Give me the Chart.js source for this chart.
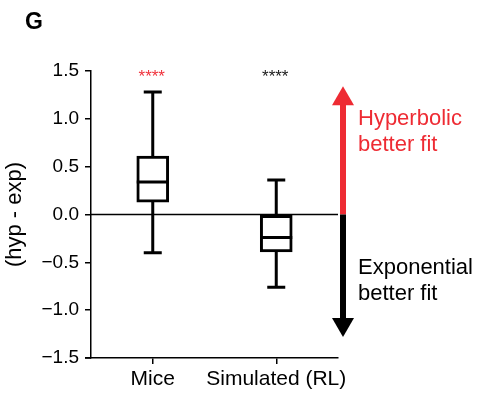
<!DOCTYPE html>
<html>
<head>
<meta charset="utf-8">
<script src="https://cdn.jsdelivr.net/npm/chart.js@4"></script>
<style>
  html, body { margin: 0; padding: 0; background: #fff; }
</style>
</head>
<body>
<canvas id="c" width="487" height="397"></canvas>
<script>
// box plot data
const categories = ['Mice', 'Simulated (RL)'];
const whiskerLow = [-0.40, -0.76];
const q1 = [0.13, -0.39];
const medians = [0.34, -0.24];
const q3 = [0.61, 0.0];
const whiskerHigh = [1.28, 0.36];
const stars = ['****', '****'];
const starColors = ['#f0323c', '#1a1a1a'];
const yTicks = [-1.5, -1.0, -0.5, 0.0, 0.5, 1.0, 1.5];
// arrow extent in y-units
const arrowTop = 1.34;
const arrowBottom = -1.28;

const FONT = "'Liberation Sans', Arial, sans-serif";

const boxExtras = {
  id: 'boxExtras',
  beforeDatasetsDraw(chart) {
    const { ctx, chartArea: a, scales: { x, y } } = chart;
    ctx.save();
    ctx.strokeStyle = '#000';
    // zero line
    ctx.lineWidth = 1.5;
    const y0 = y.getPixelForValue(0);
    ctx.beginPath();
    ctx.moveTo(a.left, y0);
    ctx.lineTo(a.right, y0);
    ctx.stroke();
    // little overhang of the x axis to the left
    ctx.beginPath();
    ctx.moveTo(a.left - 6, a.bottom);
    ctx.lineTo(a.left, a.bottom);
    ctx.stroke();
    // whiskers
    ctx.lineWidth = 3;
    categories.forEach((c, i) => {
      const cx = x.getPixelForValue(i);
      const hi = y.getPixelForValue(whiskerHigh[i]);
      const lo = y.getPixelForValue(whiskerLow[i]);
      ctx.beginPath();
      ctx.moveTo(cx, hi); ctx.lineTo(cx, y.getPixelForValue(q3[i]));
      ctx.moveTo(cx, lo); ctx.lineTo(cx, y.getPixelForValue(q1[i]));
      ctx.moveTo(cx - 9, hi); ctx.lineTo(cx + 9, hi);
      ctx.moveTo(cx - 9, lo); ctx.lineTo(cx + 9, lo);
      ctx.stroke();
    });
    ctx.restore();
  },
  afterDatasetsDraw(chart) {
    const { ctx, chartArea: a, scales: { x, y } } = chart;
    ctx.save();
    // medians
    ctx.strokeStyle = '#000';
    ctx.lineWidth = 3;
    categories.forEach((c, i) => {
      const cx = x.getPixelForValue(i);
      const m = y.getPixelForValue(medians[i]);
      ctx.beginPath();
      ctx.moveTo(cx - 16, m); ctx.lineTo(cx + 16, m);
      ctx.stroke();
    });
    // significance stars
    ctx.font = '17px ' + FONT;
    ctx.textAlign = 'center';
    ctx.textBaseline = 'middle';
    categories.forEach((c, i) => {
      ctx.fillStyle = starColors[i];
      ctx.fillText(stars[i], x.getPixelForValue(i) - 1, y.getPixelForValue(1.5) + 6);
    });
    // arrow
    const ax = a.right + 5;
    const y0 = y.getPixelForValue(0);
    const yt = y.getPixelForValue(arrowTop);
    const yb = y.getPixelForValue(arrowBottom);
    ctx.fillStyle = '#ee2b33';
    ctx.fillRect(ax - 3, yt + 16, 6, y0 - yt - 16);
    ctx.beginPath();
    ctx.moveTo(ax, yt); ctx.lineTo(ax + 11, yt + 19); ctx.lineTo(ax - 11, yt + 19);
    ctx.closePath(); ctx.fill();
    ctx.fillStyle = '#000';
    ctx.fillRect(ax - 3, y0, 6, yb - y0 - 16);
    ctx.beginPath();
    ctx.moveTo(ax, yb); ctx.lineTo(ax + 11, yb - 19); ctx.lineTo(ax - 11, yb - 19);
    ctx.closePath(); ctx.fill();
    // arrow labels
    ctx.font = '22px ' + FONT;
    ctx.textAlign = 'left';
    ctx.textBaseline = 'alphabetic';
    ctx.fillStyle = '#ee2b33';
    ctx.fillText('Hyperbolic', ax + 15, 125);
    ctx.fillText('better fit', ax + 15, 151);
    ctx.fillStyle = '#000';
    ctx.fillText('Exponential', ax + 15, 274);
    ctx.fillText('better fit', ax + 15, 300);
    // panel letter
    ctx.font = 'bold 23px ' + FONT;
    ctx.fillText('G', 25, 29);
    ctx.restore();
  }
};

new Chart(document.getElementById('c'), {
  type: 'bar',
  data: {
    labels: categories,
    datasets: [{
      data: categories.map((c, i) => [q1[i], q3[i]]),
      backgroundColor: '#fff',
      borderColor: '#000',
      borderWidth: 3,
      borderSkipped: false,
      barThickness: 32
    }]
  },
  options: {
    responsive: false,
    animation: false,
    devicePixelRatio: 1,
    layout: { padding: { top: 71, right: 149, left: 0, bottom: 0 } },
    plugins: { legend: { display: false }, tooltip: { enabled: false } },
    scales: {
      x: {
        grid: { display: true, drawOnChartArea: false, offset: false, tickLength: 6, color: '#000', lineWidth: 1.5 },
        border: { display: true, color: '#000', width: 1.5 },
        ticks: { color: '#000', font: { family: FONT, size: 21 }, padding: 3, maxRotation: 0, autoSkip: false },
        afterFit(s) { s.height = 39; }
      },
      y: {
        min: -1.5, max: 1.5,
        afterBuildTicks(s) { s.ticks = yTicks.map(v => ({ value: v })); },
        grid: { display: true, drawOnChartArea: false, tickLength: 6, color: '#000', lineWidth: 1.5 },
        border: { display: true, color: '#000', width: 1.5 },
        ticks: {
          color: '#000', font: { family: FONT, size: 19 }, padding: 6,
          callback: v => v.toFixed(1).replace('-', '\u2212')
        },
        title: { display: true, text: '(hyp - exp)', color: '#000', font: { family: FONT, size: 22 }, padding: { top: 2, bottom: 0 } },
        afterFit(s) { s.width = 91; }
      }
    }
  },
  plugins: [boxExtras]
});
</script>
</body>
</html>
